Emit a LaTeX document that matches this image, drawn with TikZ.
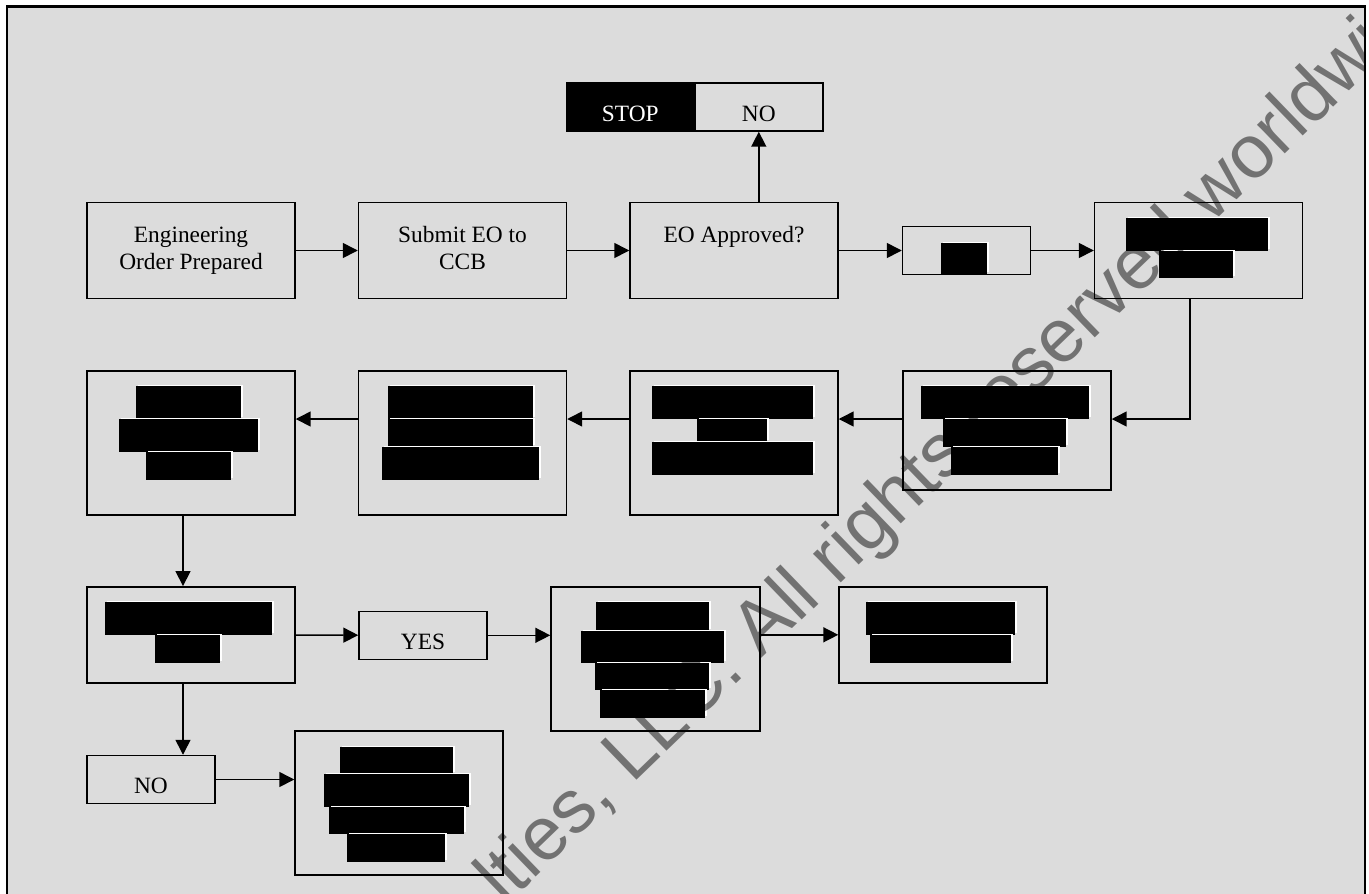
\documentclass[tikz,border=0pt]{standalone}
\usepackage{fontspec}
\setmainfont{Liberation Serif}
\newfontfamily\wmfont{Liberation Sans}
\usetikzlibrary{arrows.meta}
\definecolor{panel}{HTML}{DCDCDC}

\begin{document}
\begin{tikzpicture}[x=0.02cm, y=-0.02cm,
  font=\fontsize{13.3}{15.3}\selectfont,
  box/.style={draw, line width=0.85pt, fill=panel, inner sep=0pt, minimum width=4.16cm, minimum height=1.92cm},
  tall/.style={box, minimum height=2.88cm},
  small/.style={box, minimum width=2.56cm, minimum height=0.96cm},
  txt/.style={inner sep=0pt, anchor=base, align=center},
  flow/.style={-{Triangle[length=0.3cm, width=0.3cm]}, line width=0.85pt},
  wm/.style={font=\wmfont\fontsize{43}{52}\selectfont, text=black, text opacity=0.48, rotate=44, anchor=base west, inner sep=0pt}]

% ---- page and frame
\useasboundingbox (0,0) rectangle (1369,893);
\draw[line width=1.15pt, fill=panel] (6.7,6.5) rectangle (1365,905);

% ---- row 1
\node[box] (prep) at (191,250.5) {};
\node[box] (submit) at (462.5,250.5) {};
\node[box] (approved) at (734,250.5) {};
\node[small] (s4) at (966.5,250.5) {};
\node[box] (s5) at (1198.5,250.5) {};
\node[small, fill=black] (stop) at (630.3,107) {};
\node[small] (no) at (758.8,107) {};

% ---- row 2
\node[box, minimum height=2.38cm] (s6) at (1007,430.5) {};
\node[tall] (s7) at (734,443) {};
\node[tall] (s8) at (462.5,443) {};
\node[tall] (s9) at (191,443) {};

% ---- rows 3 and 4
\node[box] (s10) at (191,634.8) {};
\node[small] (yes) at (423,635.3) {};
\node[tall, minimum width=4.18cm] (s11) at (655.5,658.8) {};
\node[box] (s12) at (943,634.8) {};
\node[small] (nob) at (151,779.5) {};
\node[tall] (s13) at (399,803) {};

% ---- labels (base of a two-line label is its last line)
\node[txt] (prep-t) at (191,269) {Engineering\\Order Prepared};
\node[txt] (submit-t) at (462.5,269) {Submit EO to\\CCB};
\node[txt] (approved-t) at (734,242) {EO Approved?};
\node[txt, text=white] (stop-t) at (630.3,121) {STOP};
\node[txt] (no-t) at (758.8,121) {NO};
\node[txt] (yes-t) at (423,649) {YES};
\node[txt] (nob-t) at (151,793) {NO};

% ---- blacked-out text
\foreach \a/\b/\c/\d in {941/243/987/274,
    1126/218/1268/251, 1159/251/1233/278,
    921/386/1089/419, 943/419/1066/447, 951/447/1058/475,
    652/386/813/419, 697/419/767/442, 652/442/813/475,
    388/386/533/419, 388/419/533/447, 382/447/539/480,
    136/386/241/419, 119/419/258/452, 146/452/231/480,
    105/602/272/635, 155/635/220/663,
    596/602/709/631, 581/631/724/663, 595/663/709/690, 600/690/705/718,
    866/602/1015/635, 870/635/1011/663,
    340/747/453/774, 324/774/469/807, 329/807/464/834, 347/834/445/862}
{
  \fill[white] (\a+2,\b-1.3) rectangle (\c+1.5,\d-2);
  \fill[black] (\a,\b) rectangle (\c,\d);
}

% ---- flows
\coordinate (turn) at (1190,419);
\coordinate (drop) at (183,0);
\draw[flow] (prep) -- (submit);
\draw[flow] (submit) -- (approved);
\draw[flow] (approved) -- (s4);
\draw[flow] (s4) -- (s5);
\draw[flow] (approved.north -| no) -- (no);
\draw[flow] (s5.south -| turn) |- (s6.east |- turn);
\draw[flow] (s6.west |- turn) -- (s7.east |- turn);
\draw[flow] (s7.west |- turn) -- (s8.east |- turn);
\draw[flow] (s8.west |- turn) -- (s9.east |- turn);
\draw[flow] (s9.south -| drop) -- (s10.north -| drop);
\draw[flow] (s10) -- (yes);
\draw[flow] (yes) -- (yes -| s11.west);
\draw[flow] (s11.east |- s12) -- (s12);
\draw[flow] (s10.south -| drop) -- (nob.north -| drop);
\draw[flow] (nob) -- (nob -| s13.west);

% ---- watermark
\begin{scope}
  \clip (7.5,7.5) rectangle (1364,893);
  \node[wm] (mark) at (505,907) {lties, LLC. All rights reserved worldwi};
\end{scope}
\end{tikzpicture}
\end{document}
